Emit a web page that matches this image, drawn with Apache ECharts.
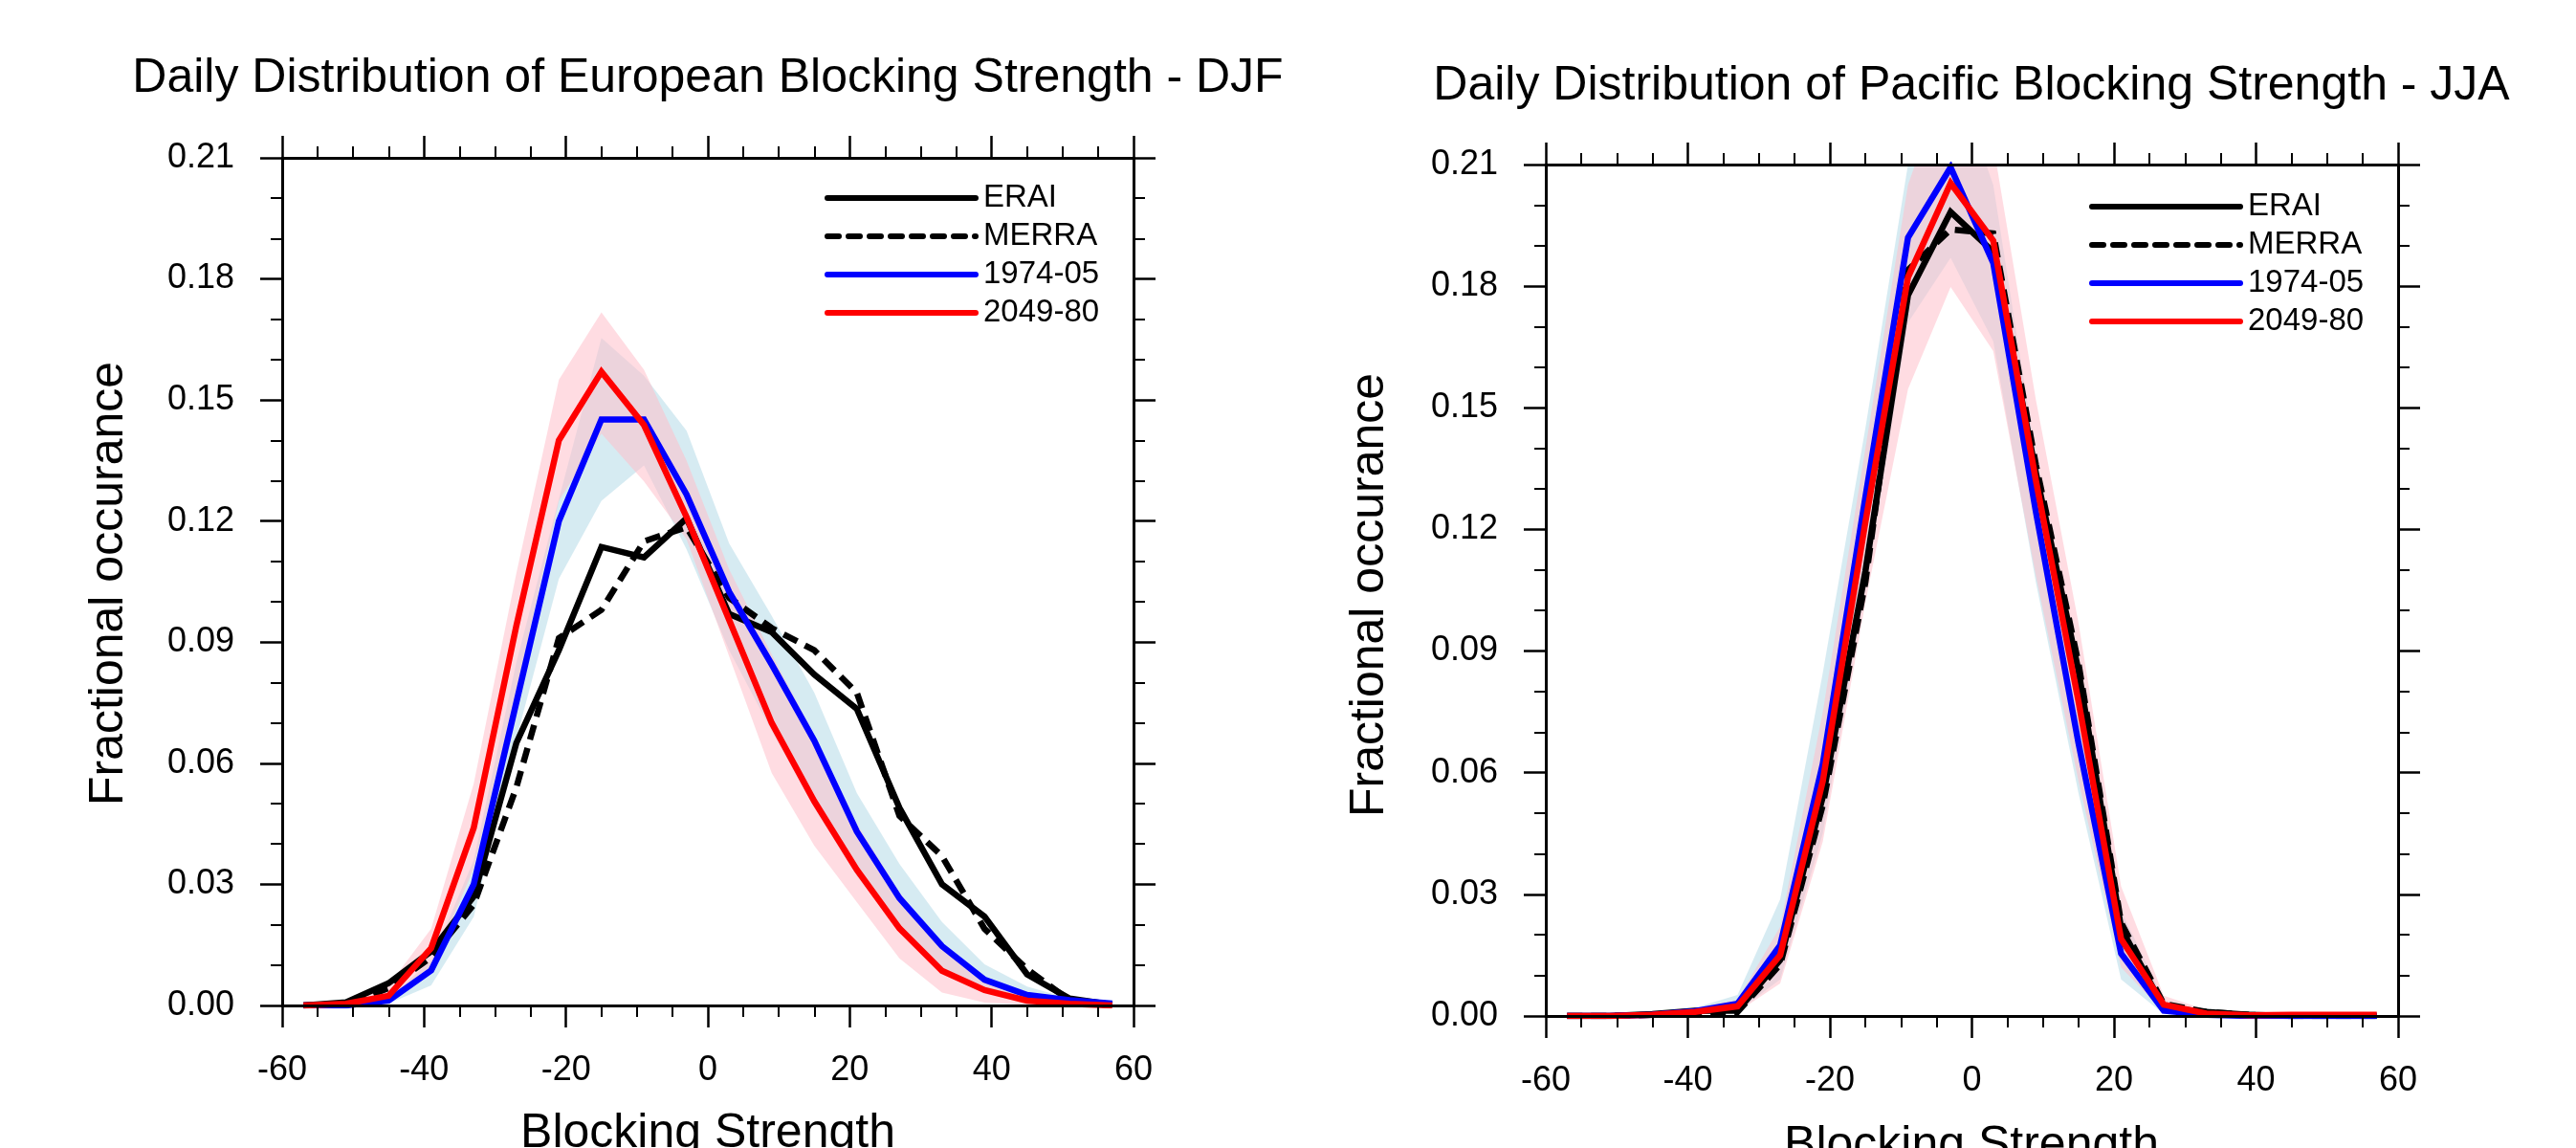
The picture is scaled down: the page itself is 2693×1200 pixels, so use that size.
<!DOCTYPE html>
<html>
<head>
<meta charset="utf-8">
<script src="https://cdn.jsdelivr.net/npm/echarts@6/dist/echarts.min.js"></script>
<style>
html,body{margin:0;padding:0;background:#fff;}
#chart{width:2693px;height:1200px;}
</style>
</head>
<body>
<div id="chart"></div>
<script>
// ---- data ----
const strength = [-57,-51,-45,-39,-33,-27,-21,-15,-9,-3,3,9,15,21,27,33,39,45,51,57];
const xTicks = [-60,-40,-20,0,20,40,60];
const yTicks = [0.00,0.03,0.06,0.09,0.12,0.15,0.18,0.21];
const seriesNames = ['ERAI','MERRA','1974-05','2049-80'];

// European blocking, DJF
const euERAI   = [0, 0.0008, 0.0055, 0.0134, 0.027, 0.065, 0.088, 0.1136, 0.111, 0.1207, 0.097, 0.0925, 0.082, 0.0735, 0.049, 0.030, 0.022, 0.0077, 0.0017, 0.0002];
const euMERRA  = [0, 0.0003, 0.0043, 0.012, 0.025, 0.054, 0.091, 0.098, 0.115, 0.1185, 0.101, 0.0935, 0.088, 0.0775, 0.047, 0.037, 0.019, 0.009, 0.0012, 0];
const eu1974   = [0, 0, 0.0012, 0.0087, 0.030, 0.075, 0.120, 0.1452, 0.1452, 0.1266, 0.1025, 0.0845, 0.0656, 0.0431, 0.0266, 0.0147, 0.0064, 0.0026, 0.0013, 0.0005];
const eu2049   = [0, 0.0004, 0.0024, 0.0142, 0.044, 0.094, 0.140, 0.157, 0.1438, 0.121, 0.0955, 0.070, 0.0506, 0.0336, 0.0191, 0.0086, 0.0038, 0.0012, 0.0004, 0];
const eu1974Lo = [0, 0, 0.0005, 0.005, 0.022, 0.066, 0.1057, 0.125, 0.1338, 0.113, 0.088, 0.068, 0.049, 0.032, 0.019, 0.0095, 0.004, 0.0013, 0.0003, 0];
const eu1974Hi = [0, 0.0003, 0.002, 0.011, 0.036, 0.085, 0.1255, 0.1654, 0.156, 0.1424, 0.1145, 0.0965, 0.0775, 0.0526, 0.0351, 0.0207, 0.0102, 0.0047, 0.0017, 0.0005];
const eu2049Lo = [0, 0, 0.001, 0.009, 0.034, 0.078, 0.125, 0.1417, 0.1298, 0.1155, 0.0865, 0.0576, 0.0396, 0.0256, 0.0117, 0.0032, 0.0007, 0.0002, 0, 0];
const eu2049Hi = [0, 0.0005, 0.005, 0.019, 0.055, 0.107, 0.155, 0.1717, 0.1575, 0.135, 0.108, 0.087, 0.067, 0.045, 0.028, 0.015, 0.007, 0.0025, 0.001, 0.0003];

// Pacific blocking, JJA
const paERAI   = [0, 0, 0.0005, 0.0013, 0.0013, 0.0138, 0.054, 0.1097, 0.1778, 0.1983, 0.1885, 0.134, 0.0852, 0.0217, 0.002, 0.001, 0.0003, 0, 0, 0];
const paMERRA  = [0, 0, 0.0003, 0.001, 0.001, 0.0127, 0.052, 0.107, 0.184, 0.194, 0.193, 0.136, 0.087, 0.023, 0.003, 0.001, 0.0003, 0, 0, 0];
const pa1974   = [0, 0, 0.0003, 0.0012, 0.003, 0.0174, 0.0622, 0.128, 0.192, 0.2093, 0.1857, 0.1244, 0.0673, 0.0154, 0.0013, 0.0003, 0, 0, 0, 0];
const pa2049   = [0, 0, 0.0003, 0.001, 0.0024, 0.015, 0.0579, 0.1218, 0.1822, 0.2054, 0.1912, 0.1321, 0.0776, 0.019, 0.0028, 0.0006, 0.0002, 0.0003, 0.0003, 0.0003];
const pa1974Lo = [0, 0, 0, 0.0003, 0.001, 0.009, 0.045, 0.105, 0.171, 0.187, 0.1664, 0.107, 0.055, 0.009, 0.0005, 0, 0, 0, 0, 0];
const pa1974Hi = [0, 0.0002, 0.001, 0.002, 0.0052, 0.0288, 0.0846, 0.145, 0.21, 0.235, 0.205, 0.138, 0.08, 0.026, 0.004, 0.001, 0, 0, 0, 0];
const pa2049Lo = [0, 0, 0, 0.0005, 0.001, 0.008, 0.043, 0.102, 0.1546, 0.1798, 0.164, 0.1086, 0.058, 0.012, 0.001, 0, 0, 0, 0, 0];
const pa2049Hi = [0, 0.0003, 0.001, 0.002, 0.004, 0.022, 0.075, 0.14, 0.205, 0.235, 0.215, 0.152, 0.097, 0.032, 0.005, 0.0015, 0.0008, 0.0006, 0.0006, 0.0005];

// ---- chart ----
const FONT = '"Liberation Sans", Arial, Helvetica, sans-serif';
const chart = echarts.init(document.getElementById('chart'), null, {renderer: 'canvas'});

const grids = [
  {left: 295, top: 165, width: 890, height: 886},
  {left: 1616, top: 172, width: 891, height: 890}
];

function pairs(arr) { return strength.map((x, i) => [x, arr[i]]); }

function xAx(gi, pos) {
  return {
    type: 'value', gridIndex: gi, position: pos, min: xTicks[0], max: xTicks[xTicks.length-1], interval: 20,
    z: 10,
    axisLine: {show: true, onZero: false, lineStyle: {color: '#000', width: 3}},
    axisTick: {show: true, inside: false, length: 23, lineStyle: {color: '#000', width: 2.5}},
    minorTick: {show: true, splitNumber: 4, length: 12, lineStyle: {color: '#000', width: 2}},
    splitLine: {show: false}, minorSplitLine: {show: false},
    axisLabel: {show: pos === 'bottom', color: '#000', fontSize: 36, fontFamily: FONT, margin: 50,
                formatter: v => String(Math.round(v))}
  };
}
function yAx(gi, pos) {
  return {
    type: 'value', gridIndex: gi, position: pos, min: 0, max: yTicks[yTicks.length-1], interval: 0.03,
    z: 10,
    axisLine: {show: true, onZero: false, lineStyle: {color: '#000', width: 3}},
    axisTick: {show: true, inside: false, length: 23, lineStyle: {color: '#000', width: 2.5}},
    minorTick: {show: true, splitNumber: 3, length: 12, lineStyle: {color: '#000', width: 2}},
    splitLine: {show: false}, minorSplitLine: {show: false},
    axisLabel: {show: pos === 'left', color: '#000', fontSize: 36, fontFamily: FONT, margin: 50,
                formatter: v => v.toFixed(2)}
  };
}

const BLUE_BAND = 'rgba(173,216,230,0.5)';
const PINK_BAND = 'rgba(255,192,203,0.55)';

// spread band drawn as one polygon through the axis scales
function band(axIdx, lo, hi, color) {
  const rows = strength.map((x, i) => [x, lo[i], hi[i]]);
  return {
    type: 'custom', xAxisIndex: axIdx, yAxisIndex: axIdx, data: rows, clip: true, silent: true, z: 1,
    encode: {x: 0, y: [1, 2]},
    renderItem: function (params, api) {
      if (params.dataIndex !== 0) return null;
      const pts = [];
      for (let i = 0; i < rows.length; i++) pts.push(api.coord([rows[i][0], rows[i][2]]));
      for (let i = rows.length - 1; i >= 0; i--) pts.push(api.coord([rows[i][0], rows[i][1]]));
      return {type: 'polygon', shape: {points: pts}, style: {fill: color, stroke: null}};
    }
  };
}
function line(axIdx, name, arr, color, dashed) {
  return {type: 'line', name: name, xAxisIndex: axIdx, yAxisIndex: axIdx, data: pairs(arr),
    symbol: 'none', z: 3,
    lineStyle: {color: color, width: 6.5, type: dashed ? [16, 9] : 'solid', join: 'miter'}};
}

function panelSeries(axIdx, d) {
  return [
    band(axIdx, d.lo74, d.hi74, BLUE_BAND),
    band(axIdx, d.lo49, d.hi49, PINK_BAND),
    line(axIdx, seriesNames[0], d.erai, '#000', false),
    line(axIdx, seriesNames[1], d.merra, '#000', true),
    line(axIdx, seriesNames[2], d.h74, '#0000ff', false),
    line(axIdx, seriesNames[3], d.f49, '#ff0000', false)
  ];
}

function legendGraphics(x0, y0) {
  const els = [];
  const styles = [
    {stroke: '#000', dash: null}, {stroke: '#000', dash: [12, 10]},
    {stroke: '#0000ff', dash: null}, {stroke: '#ff0000', dash: null}
  ];
  for (let i = 0; i < 4; i++) {
    const y = y0 + i * 40;
    els.push({type: 'line', shape: {x1: x0, y1: y, x2: x0 + 155, y2: y},
      style: {stroke: styles[i].stroke, lineWidth: 6, lineCap: 'round', lineDash: styles[i].dash}, z: 20});
    els.push({type: 'text', x: x0 + 163, y: y,
      style: {text: seriesNames[i], font: '33px ' + FONT, fill: '#000', verticalAlign: 'middle', align: 'left'}, z: 20});
  }
  return els;
}

function txt(x, y, text, size, rot) {
  return {type: 'text', x: x, y: y, rotation: rot || 0,
    style: {text: text, font: size + 'px ' + FONT, fill: '#000', align: 'center', verticalAlign: 'middle'}, z: 20};
}

const option = {
  animation: false,
  backgroundColor: '#fff',
  grid: grids,
  xAxis: [xAx(0, 'bottom'), xAx(0, 'top'), xAx(1, 'bottom'), xAx(1, 'top')],
  yAxis: [yAx(0, 'left'), yAx(0, 'right'), yAx(1, 'left'), yAx(1, 'right')],
  series: [].concat(
    panelSeries(0, {erai: euERAI, merra: euMERRA, h74: eu1974, f49: eu2049,
                    lo74: eu1974Lo, hi74: eu1974Hi, lo49: eu2049Lo, hi49: eu2049Hi}),
    panelSeries(2, {erai: paERAI, merra: paMERRA, h74: pa1974, f49: pa2049,
                    lo74: pa1974Lo, hi74: pa1974Hi, lo49: pa2049Lo, hi49: pa2049Hi})
  ),
  graphic: [].concat(
    [txt(740, 82, 'Daily Distribution of European Blocking Strength - DJF', 50),
     txt(2061, 90, 'Daily Distribution of Pacific Blocking Strength - JJA', 50),
     txt(740, 1185, 'Blocking Strength', 50),
     txt(2061, 1198, 'Blocking Strength', 50),
     txt(114, 610, 'Fractional occurance', 50, Math.PI / 2),
     txt(1432, 622, 'Fractional occurance', 50, Math.PI / 2)],
    legendGraphics(865, 207),
    legendGraphics(2187, 216)
  )
};
chart.setOption(option);
</script>
</body>
</html>
